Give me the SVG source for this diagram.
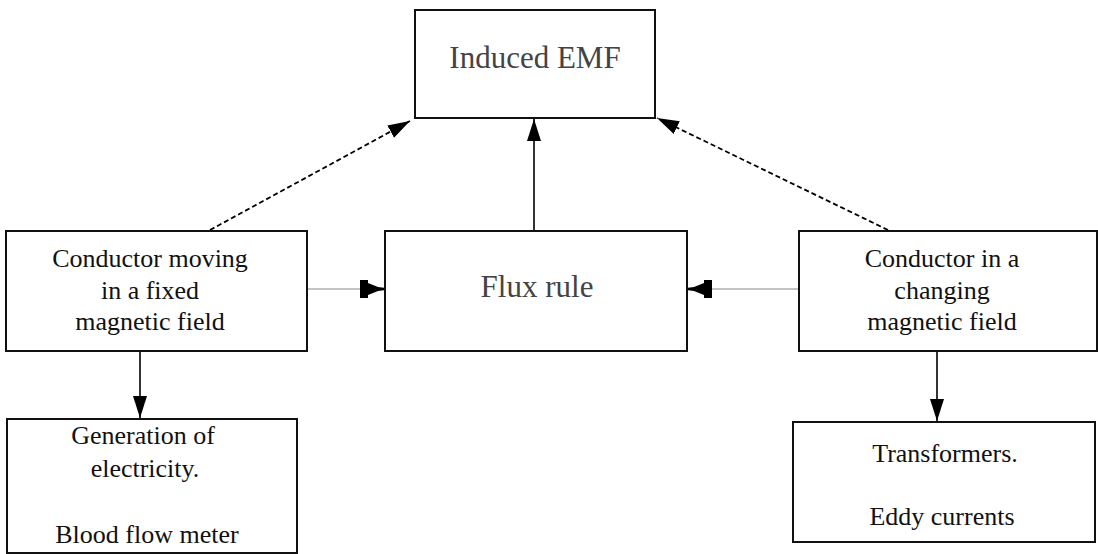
<svg xmlns="http://www.w3.org/2000/svg" width="1098" height="554" viewBox="0 0 1098 554">
<style>
.box{fill:#fff;stroke:#111;stroke-width:2}
.t{font-family:"Liberation Serif","Times New Roman",serif;font-size:26px;fill:#111;text-anchor:middle}
.big{font-family:"Liberation Serif","Times New Roman",serif;font-size:31px;fill:#444;text-anchor:middle}
.solid{stroke:#000;stroke-width:1.6;fill:none}
.thin{stroke:#888;stroke-width:1;fill:none}
.dash{stroke:#000;stroke-width:1.8;fill:none;stroke-dasharray:5 3}
</style>
<defs>
<marker id="ah" markerUnits="userSpaceOnUse" markerWidth="24" markerHeight="16" refX="22" refY="8" orient="auto">
<path d="M0,1 L22,8 L0,15 Z" fill="#000"/>
</marker>
<marker id="ahs" markerUnits="userSpaceOnUse" markerWidth="28" markerHeight="22" refX="26" refY="11" orient="auto">
<path d="M0,2 L8,2 L8,5 L18,9 L26,10 L26,12 L18,13 L8,17 L8,20 L0,20 Z" fill="#000"/>
</marker>
</defs>
<g id="connectors">
<path class="dash" d="M210,230 L410,121" marker-end="url(#ah)"/>
<path class="dash" d="M888,230 L657,118" marker-end="url(#ah)"/>
<path class="solid" d="M534,231 L534,119" marker-end="url(#ah)"/>
<path class="thin" d="M307,289 L386,289" marker-end="url(#ahs)"/>
<path class="thin" d="M799,289 L686,289" marker-end="url(#ahs)"/>
<path class="solid" d="M140,351 L140,418" marker-end="url(#ah)"/>
<path class="solid" d="M937,351 L937,421" marker-end="url(#ah)"/>
</g>
<g id="induced-emf">
<rect class="box" x="415" y="10" width="240" height="108"/>
<text class="big" x="535" y="68">Induced EMF</text>
</g>
<g id="conductor-moving">
<rect class="box" x="6" y="231" width="301" height="120"/>
<text class="t" x="150" y="267">Conductor moving</text>
<text class="t" x="150" y="299">in a fixed</text>
<text class="t" x="150" y="330">magnetic field</text>
</g>
<g id="flux-rule">
<rect class="box" x="385" y="231" width="302" height="120"/>
<text class="big" x="537" y="297">Flux rule</text>
</g>
<g id="conductor-changing">
<rect class="box" x="799" y="231" width="298" height="120"/>
<text class="t" x="942" y="267">Conductor in a</text>
<text class="t" x="942" y="299">changing</text>
<text class="t" x="942" y="330">magnetic field</text>
</g>
<g id="generation">
<rect class="box" x="7" y="419" width="290" height="134"/>
<text class="t" x="143" y="444">Generation of</text>
<text class="t" x="145" y="477">electricity.</text>
<text class="t" x="147" y="543">Blood flow meter</text>
</g>
<g id="transformers">
<rect class="box" x="793" y="422" width="302" height="120"/>
<text class="t" x="945" y="462">Transformers.</text>
<text class="t" x="942" y="525">Eddy currents</text>
</g>
</svg>
